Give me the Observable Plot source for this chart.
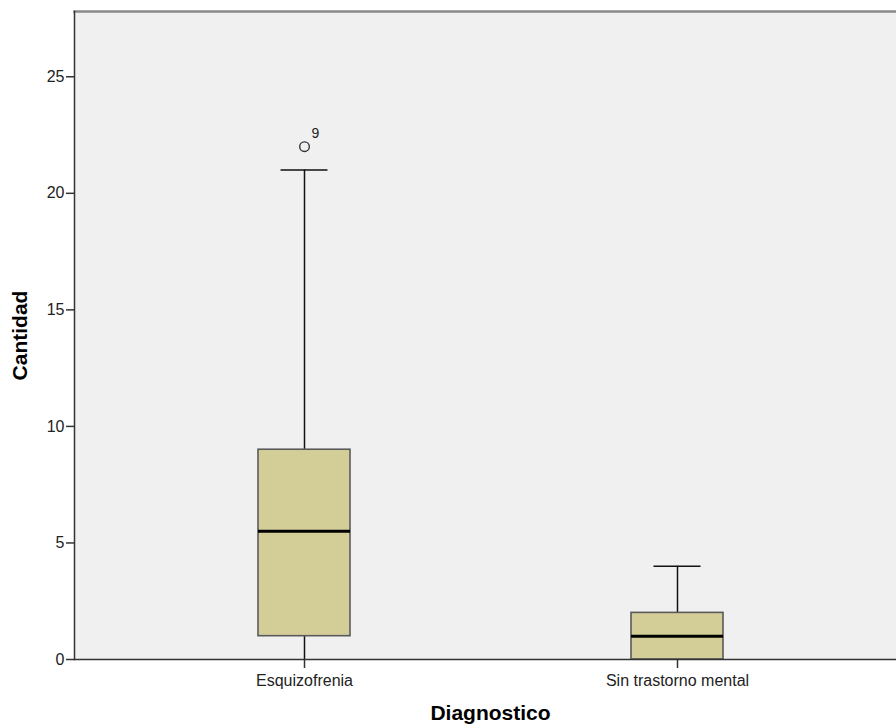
<!DOCTYPE html>
<html>
<head>
<meta charset="utf-8">
<script src="https://cdn.jsdelivr.net/npm/d3@7"></script>
<script src="https://cdn.jsdelivr.net/npm/@observablehq/plot@0.6"></script>
<style>
  html, body { margin: 0; padding: 0; background: white; overflow: hidden; }
</style>
</head>
<body>
<div id="chart"></div>
<script>
const categories = ["Esquizofrenia", "Sin trastorno mental"];
const whiskerLow = [0, 0];
const q1 = [1, 0];
const median = [5.5, 1];
const q3 = [9, 2];
const whiskerHigh = [21, 4];
const outlierCategory = ["Esquizofrenia"];
const outlierValue = [22];
const outlierLabel = ["9"];
const yTicks = [0, 5, 10, 15, 20, 25];

const boxes = categories.map((c, i) => ({
  cat: c, low: whiskerLow[i], q1: q1[i], med: median[i], q3: q3[i], high: whiskerHigh[i]
}));
const outliers = outlierCategory.map((c, i) => ({cat: c, v: outlierValue[i], label: outlierLabel[i]}));

const font = "'Liberation Sans', Arial, sans-serif";

const chart = Plot.plot({
  width: 896,
  height: 725,
  marginTop: 11,
  marginBottom: 66,
  marginLeft: 74,
  marginRight: -10,
  style: {fontFamily: font, fontSize: "16px", background: "white", color: "#222"},
  x: {type: "band", domain: categories, range: [257, 723], paddingInner: 0.754, paddingOuter: 0, axis: null, label: null},
  y: {domain: [0, 27.8], axis: null, label: null},
  marks: [
    Plot.frame({fill: "#f0f0f0", stroke: null}),
    Plot.frame({anchor: "top", stroke: "#8a8a8a", strokeWidth: 2.5}),
    Plot.ruleX(boxes, {x: "cat", y1: "low", y2: "q1", stroke: "#111", strokeWidth: 1.5}),
    Plot.ruleX(boxes, {x: "cat", y1: "q3", y2: "high", stroke: "#111", strokeWidth: 1.5}),
    Plot.tickY(boxes, {x: "cat", y: "high", insetLeft: 22.5, insetRight: 22.5, stroke: "#111", strokeWidth: 1.5}),
    Plot.barY(boxes, {x: "cat", y1: "q1", y2: "q3", fill: "#d3ce97", stroke: "#5a5a5a", strokeWidth: 1.6}),
    Plot.tickY(boxes, {x: "cat", y: "med", stroke: "#000", strokeWidth: 3}),
    Plot.dot(outliers, {x: "cat", y: "v", r: 4.8, stroke: "#333", strokeWidth: 1.4, fill: "none"}),
    Plot.text(outliers, {x: "cat", y: "v", text: "label", dx: 11, dy: -13, fontSize: 14, fill: "#222"}),
    Plot.frame({anchor: "left", stroke: "#333", strokeWidth: 1.5}),
    Plot.frame({anchor: "bottom", stroke: "#333", strokeWidth: 1.5}),
    Plot.axisY({ticks: yTicks, tickSize: 8, tickPadding: 2, fontSize: 16, strokeWidth: 1.5, stroke: "#333", label: null}),
    Plot.axisX({tickSize: 9, tickPadding: 6, fontSize: 16, strokeWidth: 1.5, stroke: "#333", label: null}),
    Plot.text(["Cantidad"], {frameAnchor: "left", textAnchor: "middle", dx: -54, rotate: -90, fontSize: 21, fontWeight: "bold", fill: "#000"}),
    Plot.text(["Diagnostico"], {frameAnchor: "bottom", textAnchor: "middle", dy: 60, fontSize: 21, fontWeight: "bold", fill: "#000"})
  ]
});
document.getElementById("chart").appendChild(chart);
</script>
</body>
</html>
